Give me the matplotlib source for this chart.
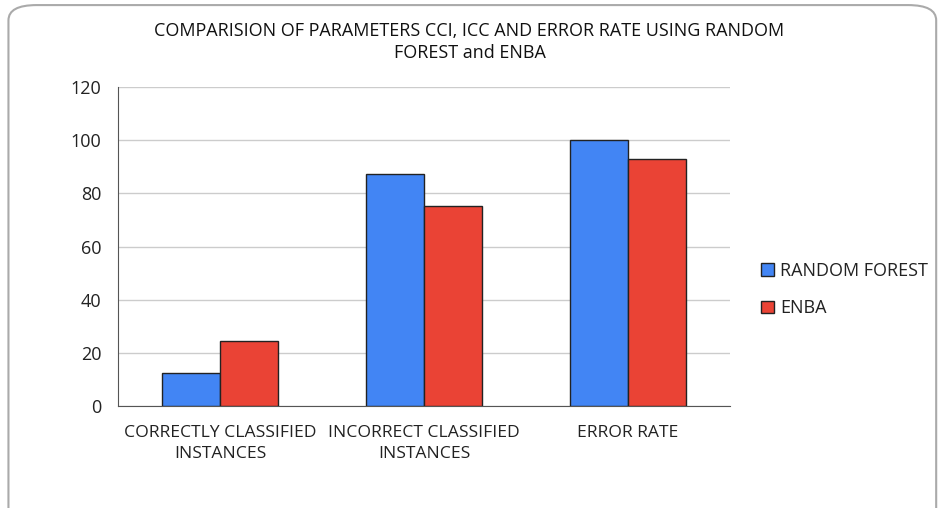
import matplotlib.pyplot as plt
import numpy as np
from matplotlib.patches import FancyBboxPatch, Patch

categories = ["CORRECTLY CLASSIFIED\nINSTANCES", "INCORRECT CLASSIFIED\nINSTANCES", "ERROR RATE"]
series_names = ["RANDOM FOREST", "ENBA"]
random_forest = [12.3, 87.2, 100.0]
enba = [24.5, 75.2, 93.0]
colors = ["#4285F4", "#EA4335"]

plt.rcParams["font.family"] = ["Open Sans", "DejaVu Sans"]

fig = plt.figure(figsize=(9.39, 5.08), dpi=100)
ax = fig.add_axes([0.1257, 0.2008, 0.6517, 0.6279])

x = np.arange(len(categories))
w = 0.285
ax.bar(x - w / 2, random_forest, w, color=colors[0], edgecolor="#222222", linewidth=1.0, zorder=3)
ax.bar(x + w / 2, enba, w, color=colors[1], edgecolor="#222222", linewidth=1.0, zorder=3)

ax.set_xlim(-0.5, 2.5)
ax.set_ylim(0, 120)
ax.set_yticks(range(0, 121, 20))
ax.set_xticks(x)
ax.set_xticklabels(categories, fontsize=12.6, color="#222222", linespacing=1.35)
ax.tick_params(axis="y", length=0, labelsize=13, colors="#222222", pad=12)
ax.tick_params(axis="x", length=0, colors="#222222", pad=14)
ax.grid(axis="y", color="#cccccc", linewidth=1, zorder=0)
for s in ["top", "right"]:
    ax.spines[s].set_visible(False)
ax.spines["left"].set_color("#555555")
ax.spines["bottom"].set_color("#555555")

fig.text(0.5, 0.918, "COMPARISION OF PARAMETERS CCI, ICC AND ERROR RATE USING RANDOM\nFOREST and ENBA",
         ha="center", va="center", fontsize=13, color="#111111", linespacing=1.3)

handles = [Patch(facecolor=c, edgecolor="#222222", label=n) for c, n in zip(colors, series_names)]
fig.legend(handles=handles, loc="center left", bbox_to_anchor=(0.793, 0.43), frameon=False,
           fontsize=13, handlelength=0.7, handleheight=0.7, handletextpad=0.35, labelspacing=1.1,
           labelcolor="#222222")

border = FancyBboxPatch((0.009, -0.05), 0.988, 1.04, boxstyle="round,pad=0,rounding_size=0.03",
                        transform=fig.transFigure, facecolor="none", edgecolor="#aaaaaa", linewidth=1.5)
fig.patches.append(border)

fig.savefig("out.png", dpi=100)
